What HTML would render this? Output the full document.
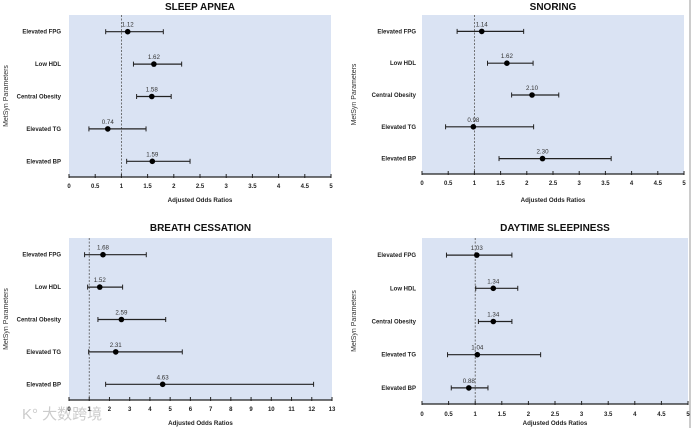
<!DOCTYPE html>
<html><head><meta charset="utf-8">
<style>
html,body{margin:0;padding:0;background:#fff;}
svg{display:block;font-family:"Liberation Sans","Noto Sans CJK SC",sans-serif;}
</style></head>
<body>
<svg id="chart" width="692" height="428" viewBox="0 0 692 428" xmlns="http://www.w3.org/2000/svg">
<line x1="690" y1="0" x2="690" y2="428" stroke="#999" stroke-width="1"/>
<text x="22" y="419" font-size="15" fill="#ccc">K° 大数跨境</text>
</svg>
<script>
const categories = ["Elevated FPG","Low HDL","Central Obesity","Elevated TG","Elevated BP"];
const apneaOR = [1.12,1.62,1.58,0.74,1.59];
const apneaLo = [0.70,1.23,1.29,0.38,1.10];
const apneaHi = [1.80,2.15,1.95,1.47,2.31];
const snoreOR = [1.14,1.62,2.10,0.98,2.30];
const snoreLo = [0.67,1.25,1.71,0.45,1.47];
const snoreHi = [1.94,2.12,2.61,2.13,3.61];
const breathOR = [1.68,1.52,2.59,2.31,4.63];
const breathLo = [0.77,0.92,1.43,0.97,1.81];
const breathHi = [3.82,2.65,4.78,5.60,12.09];
const dayOR = [1.03,1.34,1.34,1.04,0.88];
const dayLo = [0.46,1.01,1.06,0.48,0.55];
const dayHi = [1.69,1.80,1.69,2.23,1.24];
const ticks5 = [0,0.5,1,1.5,2,2.5,3,3.5,4,4.5,5];
const ticks13 = [0,1,2,3,4,5,6,7,8,9,10,11,12,13];

const NS="http://www.w3.org/2000/svg";
const svg=document.getElementById('chart');
function mk(tag,attrs,parent){const e=document.createElementNS(NS,tag);for(const k in attrs)e.setAttribute(k,attrs[k]);(parent||svg).appendChild(e);return e;}

const panels=[
 {key:'sleep-apnea',title:'SLEEP APNEA',or:apneaOR,lo:apneaLo,hi:apneaHi,ticks:ticks5,max:5,L:69,R:331,T:15,B:177,ty:10,tky:188,xty:202,yx:8,lx:61},
 {key:'snoring',title:'SNORING',or:snoreOR,lo:snoreLo,hi:snoreHi,ticks:ticks5,max:5,L:422,R:684,T:15,B:174,ty:10,tky:185,xty:202,yx:356,lx:416},
 {key:'breath-cessation',title:'BREATH CESSATION',or:breathOR,lo:breathLo,hi:breathHi,ticks:ticks13,max:13,L:69,R:332,T:238,B:400,ty:231,tky:411,xty:425,yx:8,lx:61},
 {key:'daytime-sleepiness',title:'DAYTIME SLEEPINESS',or:dayOR,lo:dayLo,hi:dayHi,ticks:ticks5,max:5,L:422,R:688,T:238,B:404,ty:231,tky:416,xty:425,yx:356,lx:416}
];

panels.forEach(p=>{
 const g=mk('g',{});
 
 
 const xs=v=>p.L+(v/p.max)*(p.R-p.L);
 const rowH=(p.B-p.T)/5;
 const ys=i=>p.T+rowH*(i+0.5)+0.5;
 const bg=mk('rect',{x:p.L,y:p.T,width:p.R-p.L,height:p.B-p.T,fill:'#dae3f3'},g);
 
 
 const t=mk('text',{x:(p.L+p.R)/2,y:p.ty,'text-anchor':'middle','font-size':'10','font-weight':'bold',fill:'#111'},g);
 t.textContent=p.title;
 
 
 const ref=mk('line',{x1:xs(1),x2:xs(1),y1:p.T,y2:p.B,stroke:'#555','stroke-width':'0.8','stroke-dasharray':'2,1.5'},g);
 
 
 const ax=mk('line',{x1:p.L,x2:p.R,y1:p.B,y2:p.B,stroke:'#222','stroke-width':'1.2'},g);
 
 
 p.ticks.forEach(v=>{
  mk('line',{x1:xs(v),x2:xs(v),y1:p.B-3,y2:p.B+1,stroke:'#222','stroke-width':'1'},g);
  const tl=mk('text',{x:xs(v),y:p.tky,'text-anchor':'middle','font-size':'6','font-weight':'bold',fill:'#222'},g);
  tl.textContent=String(v);
  
  
 });
 const xt=mk('text',{x:(p.L+p.R)/2,y:p.xty,'text-anchor':'middle','font-size':'6.2','font-weight':'bold',fill:'#222'},g);
 xt.textContent='Adjusted Odds Ratios';
 
 
 const yt=mk('text',{x:0,y:0,'text-anchor':'middle','font-size':'7',fill:'#333',transform:`translate(${p.yx},${(p.T+p.B)/2}) rotate(-90)`},g);
 yt.textContent='MetSyn Parameters';
 
 
 categories.forEach((c,i)=>{
  const y=ys(i);
  const cl=mk('text',{x:p.lx,y:y+2,'text-anchor':'end','font-size':'6','font-weight':'bold',fill:'#222'},g);
  cl.textContent=c;
  
  
  const eb=mk('g',{},g);
  
  
  mk('line',{x1:xs(p.lo[i]),x2:xs(p.hi[i]),y1:y,y2:y,stroke:'#222','stroke-width':'1.2'},eb);
  mk('line',{x1:xs(p.lo[i]),x2:xs(p.lo[i]),y1:y-2.5,y2:y+2.5,stroke:'#222','stroke-width':'1'},eb);
  mk('line',{x1:xs(p.hi[i]),x2:xs(p.hi[i]),y1:y-2.5,y2:y+2.5,stroke:'#222','stroke-width':'1'},eb);
  const pt=mk('circle',{cx:xs(p.or[i]),cy:y,r:2.8,fill:'#000'},g);
  
  
  const vl=mk('text',{x:xs(p.or[i]),y:y-5,'text-anchor':'middle','font-size':'6.2',fill:'#333'},g);
  vl.textContent=p.or[i].toFixed(2);
  
  
 });
});
</script>
</body></html>
